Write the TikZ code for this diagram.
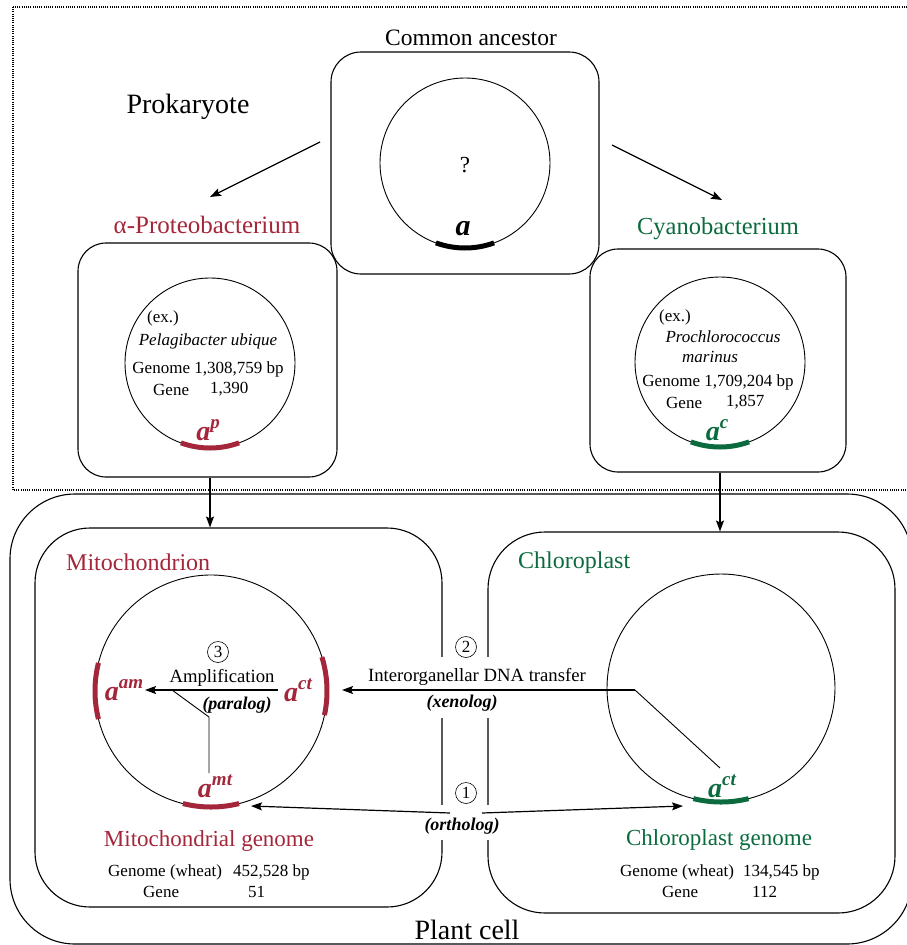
\documentclass[tikz,border=0pt]{standalone}
\usepackage{fontspec}
\setmainfont{Liberation Serif}
\usetikzlibrary{arrows.meta,calc}
\definecolor{mred}{HTML}{A3263A}
\definecolor{mgreen}{HTML}{0B6B3E}
\newcommand{\fs}[1]{\fontsize{#1}{#1}\selectfont}
\newcommand{\gsym}[2]{{\fs{28}\bfseries\itshape #1\raisebox{0.42em}{\fs{19}\bfseries\itshape #2}}}
\begin{document}
\begin{tikzpicture}[x=1pt,y=-1pt,
  rbox/.style={draw, line width=1.1pt, rounded corners=#1, inner sep=0pt},
  gcirc/.style={draw, circle, line width=0.9pt, inner sep=0pt, minimum size=#1},
  txt/.style={inner sep=0pt, font=\fs{17}},
  big/.style={inner sep=0pt, font=\fs{#1}},
  cnum/.style={draw, circle, line width=0.6pt, inner sep=0pt, minimum size=21pt, font=\fs{17}},
  arr/.style={line width=1.2pt, -{Stealth[length=11pt,width=8pt,inset=2pt]}},
  lnk/.style={line width=0.9pt},
  gene/.style={line width=5pt}
]
\useasboundingbox (0,0) rectangle (907,945);

% prokaryote frame
\draw[line width=1.2pt, dash pattern=on 1pt off 1.2pt] (13,7) rectangle (912,490);
% plant cell
\node[rbox=65, minimum width=902pt, minimum height=450pt] (plant) at (461,719) {};

% boxes
\node[rbox=30, minimum width=268pt, minimum height=222pt] (anc) at (465,163) {};
\node[rbox=28, minimum width=259pt, minimum height=234pt] (pbox) at (207.5,360) {};
\node[rbox=28, minimum width=256pt, minimum height=223pt] (cbox) at (718,360.5) {};
\node[rbox=55, minimum width=407pt, minimum height=379pt] (mito) at (238.5,717.5) {};
\node[rbox=57, minimum width=407pt, minimum height=381pt] (chlo) at (691.5,722.5) {};

% gaps in the organelle walls
\fill[white] (434,657) rectangle (496,718);
\fill[white] (434,805) rectangle (496,840);

% circles
\node[gcirc=170pt] (ancC) at (465,163) {};
\node[gcirc=170pt] (pC) at (210,363) {};
\node[gcirc=170pt] (cC) at (720,362) {};
\node[gcirc=232pt] (mC) at (211,691) {};
\node[gcirc=228pt] (chC) at (721,688) {};

% gene arcs
\draw[gene, black] ([shift={(250:85pt)}]ancC.center) arc[start angle=250,end angle=290,radius=85pt];
\draw[gene, mred] ([shift={(250:85pt)}]pC.center) arc[start angle=250,end angle=290,radius=85pt];
\draw[gene, mgreen] ([shift={(250:85pt)}]cC.center) arc[start angle=250,end angle=290,radius=85pt];
\draw[gene, mred] ([shift={(166:116pt)}]mC.center) arc[start angle=166,end angle=194,radius=116pt];
\draw[gene, mred] ([shift={(-12:116pt)}]mC.center) arc[start angle=-12,end angle=17,radius=116pt];
\draw[gene, mred] ([shift={(256:116pt)}]mC.center) arc[start angle=256,end angle=284,radius=116pt];
\draw[gene, mgreen] ([shift={(256:114pt)}]chC.center) arc[start angle=256,end angle=284,radius=114pt];

% texts top
\node[big=23.5] (tanc) at (471,38) {Common ancestor};
\node[big=28] (tprok) at (188,107) {Prokaryote};
\node[big=23] (tq) at (465,165) {?};
\node[inner sep=0pt, font=\fs{30}\bfseries\itshape] (ga) at (463,229) {a};
\node[big=25, text=mred] (talpha) at (207,225) {α-Proteobacterium};
\node[big=24.5, text=mgreen] (tcyano) at (718,229) {Cyanobacterium};

% alpha circle texts
\node[txt, anchor=west] (pex) at (147,318) {(ex.)};
\node[txt, font=\fs{17}\itshape] (psp) at (208,341) {Pelagibacter ubique};
\node[txt] (pgen) at (208,369) {Genome 1,308,759 bp};
\node[txt, anchor=west] (pgn) at (153,390) {Gene};
\node[txt, anchor=west] (pgnv) at (210,389) {1,390};
\node[inner sep=0pt, text=mred] (gap) at (208,430) {\gsym{a}{p}};

% cyano circle texts
\node[txt, anchor=west] (cex) at (659,317) {(ex.)};
\node[txt, font=\fs{17}\itshape] (csp1) at (723,337) {Prochlorococcus};
\node[txt, font=\fs{17}\itshape] (csp2) at (710,357) {marinus};
\node[txt] (cgen) at (718,382) {Genome 1,709,204 bp};
\node[txt, anchor=west] (cgn) at (666,403) {Gene};
\node[txt, anchor=west] (cgnv) at (726,402) {1,857};
\node[inner sep=0pt, text=mgreen] (gac) at (717,430) {\gsym{a}{c}};

% organelle titles
\node[big=24, text=mred, anchor=west] (tmito) at (66,562) {Mitochondrion};
\node[big=24, text=mgreen, anchor=west] (tchlo) at (518,563) {Chloroplast};

% mitochondrion inside
\node[cnum] (n3) at (218,652) {3};
\node[big=18.7] (tamp) at (222,678) {Amplification};
\node[inner sep=0pt, font=\fs{18}\bfseries\itshape] (tpar) at (237,705) {(paralog)};
\node[inner sep=0pt, text=mred] (gam) at (124,690) {\gsym{a}{am}};
\node[inner sep=0pt, text=mred] (gact1) at (298,690) {\gsym{a}{ct}};
\node[inner sep=0pt, text=mred] (gamt) at (215,786) {\gsym{a}{mt}};
\node[inner sep=0pt, text=mgreen] (gact2) at (722,786) {\gsym{a}{ct}};

% middle labels
\node[cnum] (n2) at (466,647) {2};
\node[big=18.7] (ttr) at (477,677) {Interorganellar DNA transfer};
\node[inner sep=0pt, font=\fs{18}\bfseries\itshape] (txen) at (462,703) {(xenolog)};
\node[cnum] (n1) at (466,793) {1};
\node[inner sep=0pt, font=\fs{18}\bfseries\itshape] (tort) at (462,826) {(ortholog)};

% genome labels
\node[big=23, text=mred] (tmg) at (209,841) {Mitochondrial genome};
\node[txt, anchor=west] (mg1) at (108,872) {Genome (wheat)};
\node[txt, anchor=west] (mg2) at (233,872) {452,528 bp};
\node[txt, anchor=west] (mg3) at (143,892) {Gene};
\node[txt, anchor=west] (mg4) at (248,892) {51};
\node[big=23, text=mgreen] (tcg) at (719,840) {Chloroplast genome};
\node[txt, anchor=west] (cg1) at (620,872) {Genome (wheat)};
\node[txt, anchor=west] (cg2) at (743,872) {134,545 bp};
\node[txt, anchor=west] (cg3) at (662,892) {Gene};
\node[txt, anchor=west] (cg4) at (752,892) {112};
\node[big=28] (tplant) at (467,930) {Plant cell};

% coordinates for connectors
\coordinate (a1s) at (320,142);
\coordinate (a1e) at (210,197);
\coordinate (a2s) at (612,145);
\coordinate (a2e) at (722,200);
\coordinate (pr1) at (278,690);
\coordinate (pr2) at (145,690);
\coordinate (pk) at (172,690);
\coordinate (pm) at (209,717);
\coordinate (pb) at (209,773);
\coordinate (xs) at (635,690);
\coordinate (xe) at (342,690);
\coordinate (xb) at (720,768);
\coordinate (oL) at (450,813);
\coordinate (oR) at (482,813);
\coordinate (oLe) at (251,806);
\coordinate (oRe) at (683,806);

% connectors
\draw[arr] (a1s) -- (a1e);
\draw[arr] (a2s) -- (a2e);
\draw[arr] (pC.south |- pbox.south) -- (pC.south |- mito.north);
\draw[arr] (cC.south |- cbox.south) -- (cC.south |- chlo.north);
\draw[arr] (pr1) -- (pr2);
\draw[lnk] (pk) -- (pm) -- (pb);
\draw[arr] (xs) -- (xe);
\draw[lnk] (xs) -- (xb);
\draw[arr] (oL) -- (oLe);
\draw[arr] (oR) -- (oRe);
\end{tikzpicture}
\end{document}
